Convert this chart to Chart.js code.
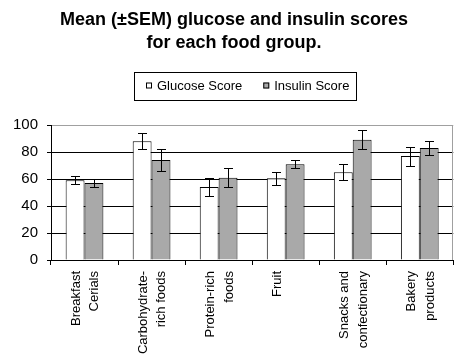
<!DOCTYPE html>
<html>
<head>
<meta charset="utf-8">
<script src="https://cdn.jsdelivr.net/npm/chart.js@4"></script>
<style>
  html, body { margin: 0; padding: 0; background: #fff; }
  canvas { display: block; }
</style>
</head>
<body>
<canvas id="chart" width="463" height="360"></canvas>
<script>
const FONT = "'Liberation Sans', Arial, sans-serif";

const categories = [
  ['Breakfast', 'Cerials'],
  ['Carbohydrate-', 'rich foods'],
  ['Protein-rich', 'foods'],
  'Fruit',
  ['Snacks and', 'confectionary'],
  ['Bakery', 'products']
];
const glucose    = [59, 88, 54, 60.5, 65, 77];
const glucoseSem = [2.9, 5.8, 6.8, 4.8, 5.9, 7];
const insulin    = [57, 74, 61, 71, 89, 83];
const insulinSem = [2.7, 8, 7, 2.8, 7, 5];
const yMax = 100;
const yStep = 20;

// error bars drawn over each bar, from the dataset's sem array
const errorBars = {
  id: 'errorBars',
  afterDatasetsDraw(chart) {
    const ctx = chart.ctx;
    const y = chart.scales.y;
    ctx.save();
    ctx.strokeStyle = '#000';
    ctx.lineWidth = 1;
    chart.data.datasets.forEach((ds, i) => {
      chart.getDatasetMeta(i).data.forEach((bar, j) => {
        const v = ds.data[j], e = ds.sem[j];
        const x = Math.round(bar.x) + 0.5;
        const top = Math.round(y.getPixelForValue(v + e)) + 0.5;
        const bot = Math.round(y.getPixelForValue(v - e)) + 0.5;
        ctx.beginPath();
        ctx.moveTo(x, top); ctx.lineTo(x, bot);
        ctx.moveTo(x - 4.5, top); ctx.lineTo(x + 4.5, top);
        ctx.moveTo(x - 4.5, bot); ctx.lineTo(x + 4.5, bot);
        ctx.stroke();
      });
    });
    ctx.restore();
  }
};

// grey right edge of the plot area
const plotFrame = {
  id: 'plotFrame',
  beforeDatasetsDraw(chart) {
    const { ctx, chartArea: a } = chart;
    const x = Math.round(a.right) - 0.5;
    ctx.save();
    ctx.strokeStyle = '#a0a0a0';
    ctx.lineWidth = 1;
    ctx.beginPath();
    ctx.moveTo(x, a.top); ctx.lineTo(x, a.bottom);
    ctx.stroke();
    ctx.restore();
  }
};

// legend inside a black box, like the spreadsheet original
const boxedLegend = {
  id: 'boxedLegend',
  afterDraw(chart, args, opts) {
    const ctx = chart.ctx;
    ctx.save();
    ctx.font = '13px ' + FONT;
    ctx.textBaseline = 'middle';
    ctx.lineWidth = 1;
    ctx.strokeStyle = '#000';
    ctx.strokeRect(opts.left + 0.5, opts.top + 0.5, opts.width, opts.height);
    const cy = opts.top + opts.height / 2;
    let x = opts.left + 12;
    chart.data.datasets.forEach(ds => {
      ctx.fillStyle = ds.backgroundColor;
      ctx.fillRect(x, cy - 3.5, 6, 6);
      ctx.strokeRect(x + 0.5, cy - 3.5 + 0.5, 5, 5);
      ctx.fillStyle = '#000';
      ctx.fillText(ds.label, x + 11, cy);
      x += 11 + ctx.measureText(ds.label).width + 21;
    });
    ctx.restore();
  }
};

new Chart(document.getElementById('chart'), {
  type: 'bar',
  data: {
    labels: categories,
    datasets: [
      { label: 'Glucose Score', data: glucose, sem: glucoseSem,
        backgroundColor: '#ffffff', borderColor: '#000', borderWidth: 1 },
      { label: 'Insulin Score', data: insulin, sem: insulinSem,
        backgroundColor: '#a9a9a9', borderColor: '#000', borderWidth: 1 }
    ]
  },
  options: {
    responsive: false,
    animation: false,
    layout: { padding: { left: 12, right: 7 } },
    datasets: { bar: { categoryPercentage: 0.563, barPercentage: 1 } },
    scales: {
      x: {
        grid: { drawOnChartArea: false, tickLength: 5, tickColor: '#000', offset: true },
        border: { color: '#000' },
        ticks: {
          color: '#000', minRotation: 90, maxRotation: 90, padding: 6, labelOffset: -8,
          font: { family: FONT, size: 13, lineHeight: 1.41 }
        },
        afterFit: s => { s.height = 100; }
      },
      y: {
        min: 0, max: yMax,
        grid: {
          color: c => c.tick.value === yMax ? '#a0a0a0' : '#000',
          tickColor: '#000', tickLength: 4
        },
        border: { color: '#000' },
        ticks: { stepSize: yStep, color: '#000', padding: 9, font: { family: FONT, size: 15 } },
        afterFit: s => { s.width = 39; }
      }
    },
    plugins: {
      legend: { display: false },
      tooltip: { enabled: false },
      title: {
        display: true,
        text: ['Mean (\u00b1SEM) glucose and insulin scores', 'for each food group.'],
        color: '#000',
        font: { family: FONT, size: 18, weight: 'bold', lineHeight: 1.278 },
        padding: { top: 9, bottom: 70 }
      },
      boxedLegend: { left: 134, top: 72, width: 222, height: 28 }
    }
  },
  plugins: [plotFrame, errorBars, boxedLegend]
});
</script>
</body>
</html>
